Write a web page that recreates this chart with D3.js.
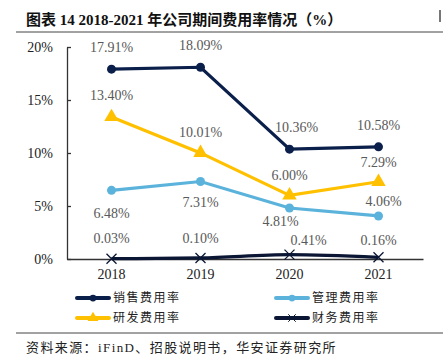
<!DOCTYPE html>
<html>
<head>
<meta charset="utf-8">
<script src="https://cdn.jsdelivr.net/npm/d3@7"></script>
<style>
  body { margin: 0; background: #fff; }
  svg { display: block; }
</style>
</head>
<body>
<div id="chart"></div>
<script>
// chart values
var years = ['2018', '2019', '2020', '2021'];
var sales = [17.91, 18.09, 10.36, 10.58];
var admin = [6.48, 7.31, 4.81, 4.06];
var rnd = [13.40, 10.01, 6.00, 7.29];
var finance = [0.03, 0.10, 0.41, 0.16];
var yTicks = [0, 5, 10, 15, 20];

var W = 443, H = 364;
var serif = '"Times New Roman", "Liberation Serif", serif';
var cjk = '"Liberation Serif", "Noto Sans CJK SC", sans-serif';

var svg = d3.select('#chart').append('svg')
    .attr('width', W)
    .attr('height', H);

// header
svg.append('text')
    .attr('x', 26).attr('y', 25)
    .attr('font-family', cjk)
    .attr('font-size', 15)
    .attr('font-weight', 'bold')
    .attr('fill', '#111')
    .text('图表 14 2018-2021 年公司期间费用率情况（%）');
svg.append('line')
    .attr('x1', 16).attr('x2', W).attr('y1', 32).attr('y2', 32)
    .attr('stroke', '#444').attr('stroke-width', 1);
svg.append('rect')
    .attr('x', 439).attr('y', 10).attr('width', 2).attr('height', 12)
    .attr('fill', '#777');

var x = d3.scaleBand().domain(years).range([67, 423]);
var y = d3.scaleLinear().domain([0, 20]).range([259, 47]);
var cx = d => x(d) + x.bandwidth() / 2;

// axes
var yAxis = svg.append('g')
    .attr('transform', 'translate(67,0)')
    .call(d3.axisLeft(y).tickValues(yTicks).tickSize(-4).tickSizeOuter(0)
        .tickPadding(14).tickFormat(d => d + '%'));
var xAxis = svg.append('g')
    .attr('transform', 'translate(0,259)')
    .call(d3.axisBottom(x).tickSize(0).tickSizeOuter(0).tickPadding(10));
[yAxis, xAxis].forEach(function(g) {
    g.selectAll('path, line').attr('stroke', '#333').attr('stroke-width', 1.3);
    g.selectAll('text')
        .attr('font-family', serif)
        .attr('font-size', 14)
        .attr('fill', '#222');
});

var series = [
    {name: '销售费用率', values: sales, color: '#0b1f4b', marker: 'circle', curve: d3.curveLinear,
     lab: [[0, -22], [0, -22], [7, -22], [0, -22]]},
    {name: '管理费用率', values: admin, color: '#5bb3dc', marker: 'circle', curve: d3.curveLinear,
     lab: [[0, 23], [0, 21], [-9, 13], [5, -15]]},
    {name: '研发费用率', values: rnd, color: '#ffc000', marker: 'triangle', curve: d3.curveLinear,
     lab: [[0, -22], [0, -21], [0, -20], [0, -20]]},
    {name: '财务费用率', values: finance, color: '#0a1633', marker: 'cross', curve: d3.curveMonotoneX,
     lab: [[0, -21], [0, -20], [19, -15], [0, -17]]}
];

function drawMarker(g, type, color) {
    if (type === 'circle') {
        g.append('circle').attr('r', 4.5).attr('fill', color);
    } else if (type === 'triangle') {
        g.append('path')
            .attr('d', d3.symbol().type(d3.symbolTriangle).size(90)())
            .attr('fill', color);
    } else {
        g.append('path')
            .attr('d', 'M-5,-5L5,5M-5,5L5,-5')
            .attr('stroke', color).attr('stroke-width', 1.3).attr('fill', 'none');
    }
}

series.forEach(function(s) {
    var line = d3.line().curve(s.curve)
        .x((d, i) => cx(years[i])).y(d => y(d));
    svg.append('path')
        .datum(s.values)
        .attr('d', line)
        .attr('fill', 'none')
        .attr('stroke', s.color)
        .attr('stroke-width', 3.2);

    var pts = svg.selectAll(null)
        .data(s.values)
        .enter().append('g')
        .attr('transform', (d, i) => 'translate(' + cx(years[i]) + ',' + y(d) + ')');
    pts.each(function() { drawMarker(d3.select(this), s.marker, s.color); });

    svg.selectAll(null)
        .data(s.values)
        .enter().append('text')
        .attr('x', (d, i) => cx(years[i]) + s.lab[i][0])
        .attr('y', (d, i) => y(d) + s.lab[i][1])
        .attr('dy', '0.35em')
        .attr('text-anchor', 'middle')
        .attr('font-family', serif)
        .attr('font-size', 14)
        .attr('fill', '#595959')
        .text(d => d.toFixed(2) + '%');
});

// legend
var legendPos = [[77, 298], [276, 298], [77, 318], [276, 318]];
series.forEach(function(s, i) {
    var g = svg.append('g')
        .attr('transform', 'translate(' + legendPos[i][0] + ',' + legendPos[i][1] + ')');
    g.append('line')
        .attr('x1', 0).attr('x2', 32)
        .attr('stroke', s.color).attr('stroke-width', 4)
        .attr('stroke-linecap', 'round');
    var m = g.append('g').attr('transform', 'translate(16,0) scale(0.75)');
    drawMarker(m, s.marker, s.color);
    g.append('text')
        .attr('x', 36).attr('dy', '0.35em')
        .attr('font-family', cjk)
        .attr('font-size', 12)
        .attr('letter-spacing', 1.5)
        .attr('fill', '#222')
        .text(s.name);
});

// footer
svg.append('line')
    .attr('x1', 16).attr('x2', W).attr('y1', 333).attr('y2', 333)
    .attr('stroke', '#444').attr('stroke-width', 1);
svg.append('text')
    .attr('x', 26).attr('y', 352)
    .attr('font-family', cjk)
    .attr('font-size', 13)
    .attr('letter-spacing', 1.4)
    .attr('fill', '#222')
    .text('资料来源：iFinD、招股说明书，华安证券研究所');
</script>
</body>
</html>
